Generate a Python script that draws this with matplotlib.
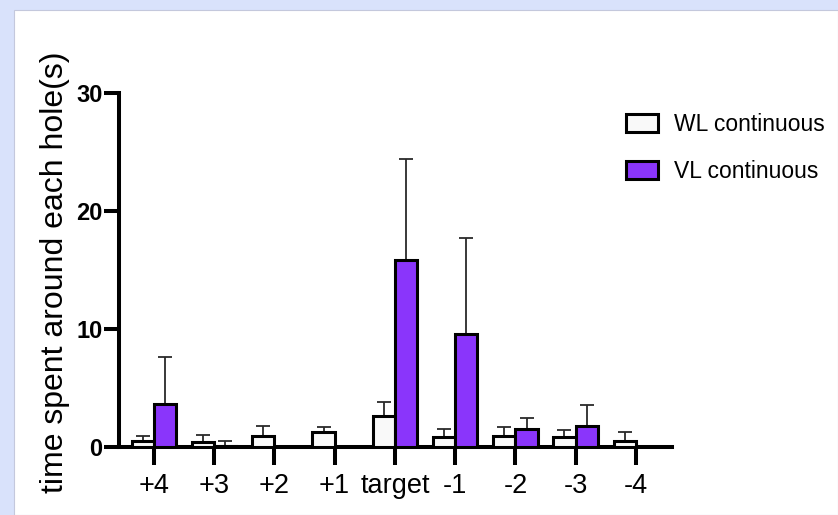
import matplotlib
matplotlib.use("Agg")
import matplotlib.pyplot as plt
from matplotlib.patches import Rectangle, Patch
import numpy as np

# ── Data ──────────────────────────────────────────────────────────────────────
holes   = ['+4', '+3', '+2', '+1', 'target', '-1', '-2', '-3', '-4']
wl_mean = [0.55, 0.45, 0.95, 1.25, 2.65, 0.88, 0.9, 0.85, 0.55]
wl_err  = [0.38, 0.55, 0.83, 0.42, 1.2, 0.62, 0.77, 0.57, 0.72]
vl_mean = [3.65, 0.1, 0.0, 0.0, 15.85, 9.55, 1.55, 1.75, 0.0]
vl_err  = [4.0, 0.4, 0.0, 0.0, 8.55, 8.2, 0.9, 1.8, 0.0]

WL_COL = '#f9f9f9'
VL_COL = '#8a35fb'
BG_COL = '#d9e2fb'

plt.rcParams['font.family'] = ['Liberation Sans', 'DejaVu Sans']

fig = plt.figure(figsize=(8.38, 5.15), dpi=100)
fig.patch.set_facecolor(BG_COL)
# white panel
fig.add_artist(Rectangle((14/838, 0), 1 - 14/838, 1 - 10/515,
                         transform=fig.transFigure, facecolor='white',
                         edgecolor='#c4c8dc', linewidth=0.8, zorder=0))

ax = fig.add_axes([119/838, (515-447)/515, (672-119)/838, (447-93)/515])
ax.set_facecolor('none')

x = np.arange(len(holes))
w = 0.37
ax.bar(x - w/2, wl_mean, w, color=WL_COL, edgecolor='black', linewidth=2.2, zorder=3)
ax.bar(x + w/2, vl_mean, w, color=VL_COL, edgecolor='black', linewidth=2.2, zorder=3)

for xs, m, e in [(x - w/2, wl_mean, wl_err), (x + w/2, vl_mean, vl_err)]:
    m = np.array(m); e = np.array(e)
    keep = e > 0
    ax.errorbar(xs[keep], m[keep], yerr=[np.zeros(keep.sum()), e[keep]],
                fmt='none', ecolor='#2a2a2a', elinewidth=1.3,
                capsize=4.8, capthick=1.3, zorder=2)

ax.set_xlim(-0.58, 8.6)
ax.set_ylim(0, 30)
ax.set_yticks([0, 10, 20, 30])
ax.set_xticks(x)
ax.set_xticklabels(holes, fontsize=19.5)
for lab in ax.get_yticklabels():
    lab.set_fontweight('bold')
    lab.set_fontsize(17)

for s in ['top', 'right']:
    ax.spines[s].set_visible(False)
for s in ['left', 'bottom']:
    ax.spines[s].set_linewidth(2.9)
    ax.spines[s].set_capstyle('projecting')
ax.tick_params(axis='y', length=11, width=2.9, pad=1)
ax.tick_params(axis='x', length=13, width=2.9, pad=6)

ax.set_ylabel('time spent around each hole(s)', fontsize=23)
ax.yaxis.set_label_coords(-0.088, 0.493)

handles = [Patch(facecolor=WL_COL, edgecolor='black', linewidth=2.2),
           Patch(facecolor=VL_COL, edgecolor='black', linewidth=2.2)]
fig.legend(handles, ['WL continuous', 'VL continuous'],
           loc='upper left', bbox_to_anchor=(605/838, 1 - 92/515),
           frameon=False, fontsize=16.5, handlelength=1.4,
           handleheight=0.85, handletextpad=0.7, labelspacing=1.05)

plt.savefig('out.png', dpi=100, facecolor=BG_COL)
